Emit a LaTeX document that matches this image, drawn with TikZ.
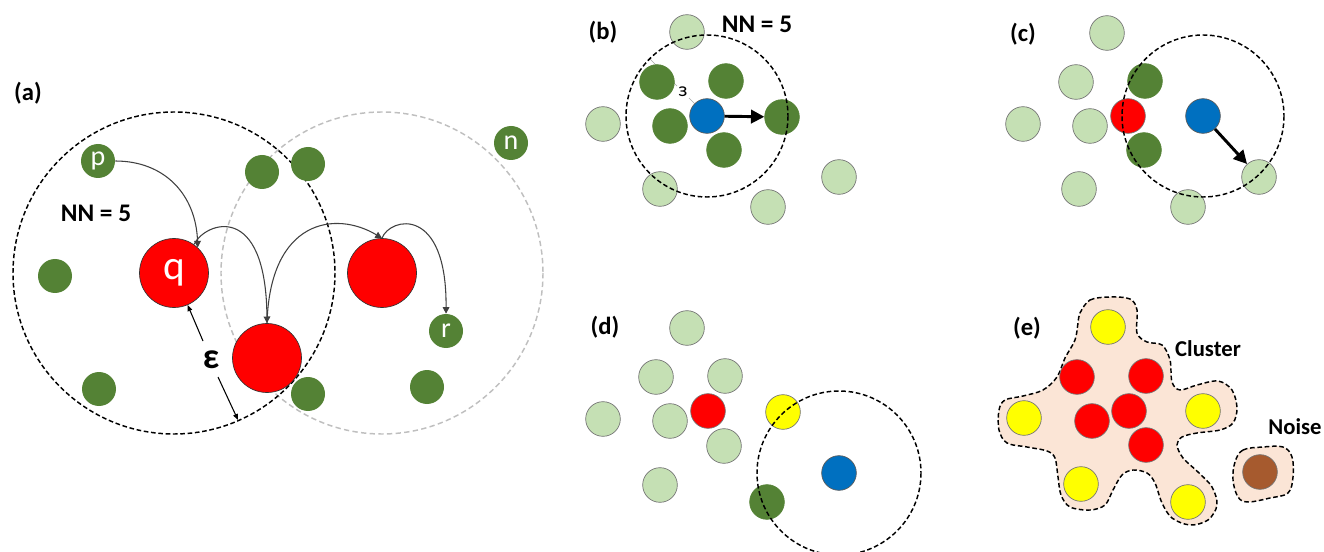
\documentclass[tikz,border=0pt]{standalone}
\usepackage{fontspec}
\setmainfont{Carlito}
\usepackage{graphicx}
\usetikzlibrary{arrows.meta,backgrounds}

\definecolor{dgreen}{HTML}{548235}
\definecolor{lgreen}{HTML}{C5E0B4}
\definecolor{pblue}{HTML}{0070C0}
\definecolor{pred}{HTML}{FF0000}
\definecolor{pyellow}{HTML}{FFFF00}
\definecolor{pbrown}{HTML}{A65A2E}
\definecolor{peach}{HTML}{FBE5D6}
\definecolor{ringgray}{HTML}{BFBFBF}
\definecolor{linkgray}{HTML}{404040}

\tikzset{
  dot/.style={circle, inner sep=0pt, minimum size=26pt, draw=black!55, line width=0.5pt},
  dk/.style={dot, fill=dgreen, draw=dgreen},
  lt/.style={dot, fill=lgreen},
  rd/.style={dot, fill=pred},
  bl/.style={dot, fill=pblue, draw=black!65},
  yl/.style={dot, fill=pyellow},
  br/.style={dot, fill=pbrown},
  adot/.style={circle, inner sep=0pt, minimum size=25.5pt, fill=dgreen, text=white,
    font=\fontsize{21}{21}\selectfont},
  core/.style={circle, inner sep=0pt, minimum size=51.75pt, fill=pred, draw=black!80,
    line width=0.5pt, text=white, font=\fontsize{31}{31}\selectfont},
  panel/.style={font=\fontsize{18.5}{22}\selectfont\bfseries},
  nnlabel/.style={font=\fontsize{19}{22}\selectfont\bfseries},
  tag/.style={font=\fontsize{17}{20}\selectfont\bfseries},
  link/.style={linkgray, line width=0.8pt, -{Triangle[length=5pt,width=5pt]}},
  epsarrow/.style={black, line width=0.8pt, -{Triangle[length=4.5pt,width=3.5pt]}},
  push/.style={black, line width=2.2pt, -{Triangle[length=10pt,width=10pt]}},
  ringb/.style={black, line width=1.1pt, dash pattern=on 3.5pt off 2pt},
  ringg/.style={ringgray, line width=1.1pt, dash pattern=on 4pt off 2.5pt},
}

\begin{document}
\begin{tikzpicture}[x=0.75pt, y=-0.75pt]
\useasboundingbox (0,0) rectangle (1324,552);

% ---------------- (a) ----------------
\node[panel] (la) at (28,93) {(a)};
\node[nnlabel] (nna) at (96,213) {NN = 5};

\node[adot] (p)  at (98,161)  {p};
\node[adot] (g1) at (262,172) {};
\node[adot] (g2) at (308,164) {};
\node[adot] (n)  at (511,143) {n};
\node[adot] (g3) at (55,276)  {};
\node[adot] (g4) at (99,389)  {};
\node[adot] (g5) at (308,394) {};
\node[adot] (g6) at (427,387) {};
\node[adot] (r)  at (446,331) {r};
\node[core] (q)  at (174,273) {q};
\node[core] (c2) at (267,358) {};
\node[core] (c3) at (382,273) {};

\begin{scope}[on background layer]
  \draw[ringg] (c3.center) circle[radius=161];
  \draw[ringb] (q.center) circle[radius=161];
\end{scope}

\draw[link] (p.east) .. controls (165,161) and (196,195) .. (q.47);
\draw[link] (q.55) .. controls (205,222) and (266,200) .. (c2.north);
\draw[link] (c2.north) .. controls (270,220) and (335,210) .. (c3.north);
\draw[link] (c3.north) .. controls (390,217) and (447,205) .. (r.north);

\node[font=\fontsize{27}{27}\selectfont\bfseries] (eps) at (211,360) {ε};
\coordinate (ea) at (203,341);
\coordinate (eb) at (218,377);
\coordinate (erim) at (238,420);
\draw[epsarrow] (ea) -- (q);
\draw[epsarrow] (eb) -- (erim);

% ---------------- (b) ----------------
\node[panel] (lb) at (603,32) {(b)};
\node[nnlabel] (nnb) at (757,24) {NN = 5};

\node[lt] (b1) at (687,32)  {};
\node[lt] (b2) at (603,124) {};
\node[lt] (b3) at (660,189) {};
\node[lt] (b4) at (768,207) {};
\node[lt] (b5) at (839,177) {};
\node[dk] (b6) at (657,82)  {};
\node[dk] (b7) at (726,81)  {};
\node[dk] (b8) at (670,126) {};
\node[dk] (b9) at (724,150) {};
\node[dk] (b10) at (782,117) {};
\node[bl] (bq) at (707,116) {};

\coordinate (brim) at (650,59);
\begin{scope}[on background layer]
  \draw[black!35, line width=0.5pt] (brim) -- (bq);
\end{scope}
\node[fill=white, inner sep=0.8pt, font=\fontsize{15}{15}\selectfont] (beps) at (683,92) {\reflectbox{ε}};
\draw[ringb] (bq.center) circle[radius=81];
\draw[push] (bq) -- (b10);

% ---------------- (c) ----------------
\node[panel] (lc) at (1023,34) {(c)};

\node[lt] (c1) at (1107,33)  {};
\node[lt] (c4) at (1076,82)  {};
\node[lt] (c5) at (1023,124) {};
\node[lt] (c6) at (1090,126) {};
\node[lt] (c7) at (1079,189) {};
\node[lt] (c8) at (1188,207) {};
\node[lt] (c9) at (1259,177) {};
\node[dk] (c10) at (1145,81)  {};
\node[dk] (c11) at (1144,150) {};
\node[rd] (c12) at (1128,116) {};
\node[bl] (cq) at (1203,116) {};

\draw[ringb] (cq.center) circle[radius=81];
\draw[push] (cq) -- (c9);

% ---------------- (d) ----------------
\node[panel] (ld) at (605,327) {(d)};

\node[lt] (d1) at (687,328) {};
\node[lt] (d2) at (656,377) {};
\node[lt] (d3) at (725,376) {};
\node[lt] (d4) at (603,419) {};
\node[lt] (d5) at (670,421) {};
\node[lt] (d6) at (724,446) {};
\node[lt] (d7) at (660,485) {};
\node[rd] (d8) at (708,411) {};
\node[yl] (d9) at (783,412) {};
\node[dk] (d10) at (767,502) {};
\node[bl] (dq) at (839,473) {};

\draw[ringb] (dq.center) circle[radius=82];

% ---------------- (e) ----------------
\node[panel] (le) at (1027,328) {(e)};
\node[tag] (lcl) at (1208,349) {Cluster};
\node[tag] (lno) at (1295,427) {Noise};

\draw[ringb, fill=peach] plot[smooth cycle, tension=0.55] coordinates {
  (1080,313) (1090,300) (1110,297) (1130,299) (1137,310) (1137,333)
  (1147,342) (1162,345) (1170,360) (1172,382) (1180,390) (1197,385)
  (1218,381) (1232,390) (1237,408) (1233,423) (1220,430) (1197,433)
  (1182,437) (1177,445) (1183,458) (1198,472) (1212,487) (1217,505)
  (1208,520) (1190,525) (1172,518) (1162,503) (1155,483) (1147,473)
  (1133,470) (1122,475) (1113,490) (1105,505) (1090,510) (1070,507)
  (1061,495) (1058,477) (1055,458) (1047,451) (1027,447) (1007,443)
  (999,430) (999,410) (1005,400) (1023,396) (1043,390) (1057,377)
  (1065,358) (1075,340) (1078,323)};
\draw[ringb, fill=peach] plot[smooth cycle, tension=0.6] coordinates {
  (1235,462) (1243,450) (1263,447) (1283,447) (1292,457) (1293,477)
  (1288,493) (1270,498) (1248,502) (1238,497) (1233,480)};

\node[yl] (e1) at (1108,327) {};
\node[yl] (e2) at (1024,418) {};
\node[yl] (e3) at (1203,411) {};
\node[yl] (e4) at (1081,484) {};
\node[yl] (e5) at (1188,502) {};
\node[rd] (e6) at (1077,377) {};
\node[rd] (e7) at (1146,376) {};
\node[rd] (e8) at (1129,411) {};
\node[rd] (e9) at (1092,421) {};
\node[rd] (e10) at (1146,445) {};
\node[br] (e11) at (1260,472) {};
\end{tikzpicture}
\end{document}
